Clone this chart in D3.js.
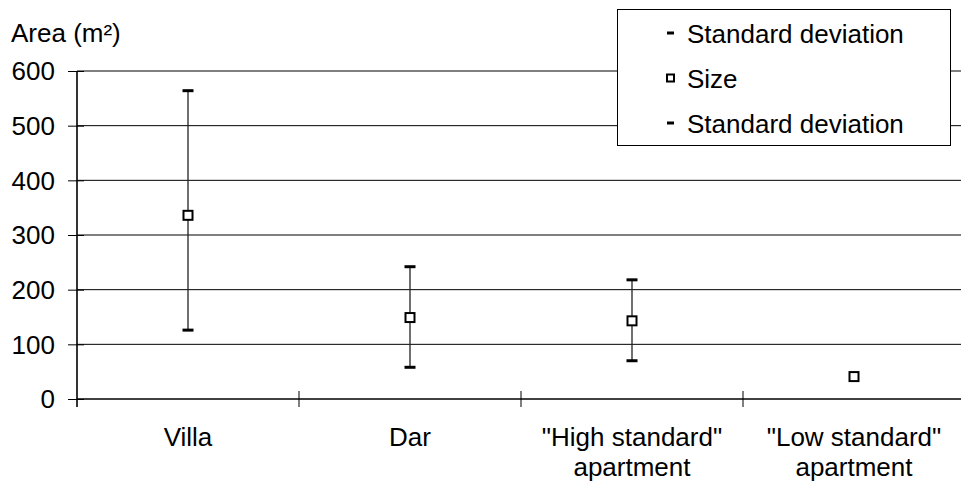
<!DOCTYPE html>
<html><head><meta charset="utf-8">
<script src="https://cdn.jsdelivr.net/npm/d3@7"></script>
<style>body{margin:0;background:#fff}svg{display:block;font-family:"Liberation Sans",Arial,sans-serif}</style>
</head><body>
<svg id="c" width="961" height="483"></svg>
<script>
const categories = [["Villa"], ["Dar"], ["\"High standard\"", "apartment"], ["\"Low standard\"", "apartment"]];
const sizeValues = [336, 149, 143, 41];
const sdUpper = [564, 242, 218, null];
const sdLower = [126, 58, 70, null];
const yTicks = [0, 100, 200, 300, 400, 500, 600];
const legendLabels = ["Standard deviation", "Size", "Standard deviation"];

(function () {
const svg = d3.select("#c");
const pL = 77, pR = 965, pT = 71, pB = 399;
const x = d3.scaleBand().domain(d3.range(categories.length)).range([pL, pR]);
const y = d3.scaleLinear().domain([0, 600]).range([pB, pT]);
const fs = 26;
const ff = "Liberation Sans, Arial, sans-serif";

// gridlines
svg.append("g").selectAll("line").data(yTicks.filter(d => d > 0)).join("line")
  .attr("x1", pL).attr("x2", pR).attr("y1", d => y(d)).attr("y2", d => y(d))
  .attr("stroke", "#000").attr("stroke-width", 1);

// y axis
const ya = svg.append("g").attr("transform", `translate(${pL},0)`)
  .call(d3.axisLeft(y).tickValues(yTicks).tickSize(9).tickPadding(13).tickFormat(d3.format("d")));
ya.select(".domain").remove();
ya.selectAll(".tick line").attr("stroke", "#000").attr("x2", -9).attr("x1", 7);
ya.selectAll("text").attr("font-size", fs).attr("fill", "#000").attr("font-family", ff).attr("dy", "0.34em");
svg.append("line").attr("x1", pL).attr("x2", pL).attr("y1", pT).attr("y2", pB + 8).attr("stroke", "#000").attr("stroke-width", 1.6);

// x axis
svg.append("line").attr("x1", pL).attr("x2", pR).attr("y1", pB).attr("y2", pB).attr("stroke", "#000").attr("stroke-width", 1.6);
svg.append("g").selectAll("line").data(d3.range(1, categories.length + 1)).join("line")
  .attr("x1", i => pL + i * x.bandwidth()).attr("x2", i => pL + i * x.bandwidth())
  .attr("y1", pB - 8).attr("y2", pB + 8).attr("stroke", "#000");

// category labels
const cl = svg.append("g").selectAll("text").data(categories).join("text")
  .attr("x", (d, i) => x(i) + x.bandwidth() / 2).attr("y", 446)
  .attr("text-anchor", "middle").attr("font-size", fs).attr("font-family", ff).attr("fill", "#000");
cl.selectAll("tspan").data(d => d).join("tspan")
  .attr("x", function() { return this.parentNode.getAttribute("x"); })
  .attr("dy", (d, i) => i === 0 ? 0 : 30).text(d => d);

// axis title
svg.append("text").attr("x", 11).attr("y", 42).attr("font-size", fs).attr("font-family", ff).attr("fill", "#000").text("Area (m²)");

// error bars
const cx = i => x(i) + x.bandwidth() / 2;
const eb = svg.append("g");
sizeValues.forEach((v, i) => {
  if (sdUpper[i] == null) return;
  eb.append("line").attr("x1", cx(i)).attr("x2", cx(i)).attr("y1", y(sdUpper[i])).attr("y2", y(sdLower[i]))
    .attr("stroke", "#222").attr("stroke-width", 1.3);
  [sdUpper[i], sdLower[i]].forEach(s => {
    eb.append("line").attr("x1", cx(i) - 5.5).attr("x2", cx(i) + 5.5).attr("y1", y(s)).attr("y2", y(s))
      .attr("stroke", "#000").attr("stroke-width", 3);
  });
});
// markers
svg.append("g").selectAll("rect").data(sizeValues).join("rect")
  .attr("x", (d, i) => cx(i) - 4.5).attr("y", d => y(d) - 4.5).attr("width", 9).attr("height", 9)
  .attr("fill", "#fff").attr("stroke", "#000").attr("stroke-width", 2);

// legend
const lg = svg.append("g");
lg.append("rect").attr("x", 617.5).attr("y", 9.5).attr("width", 333).attr("height", 136)
  .attr("fill", "#fff").attr("stroke", "#000");
const ly = [33, 78, 123];
legendLabels.forEach((t, i) => {
  if (i === 1) {
    lg.append("rect").attr("x", 667).attr("y", ly[i] - 3.5).attr("width", 7).attr("height", 7)
      .attr("fill", "#fff").attr("stroke", "#000").attr("stroke-width", 2);
  } else {
    lg.append("line").attr("x1", 667).attr("x2", 674).attr("y1", ly[i]).attr("y2", ly[i])
      .attr("stroke", "#000").attr("stroke-width", 3);
  }
  lg.append("text").attr("x", 687).attr("y", ly[i] + 9.5).attr("font-size", fs).attr("font-family", ff).attr("fill", "#000").text(t);
});
})();
</script>
</body></html>
